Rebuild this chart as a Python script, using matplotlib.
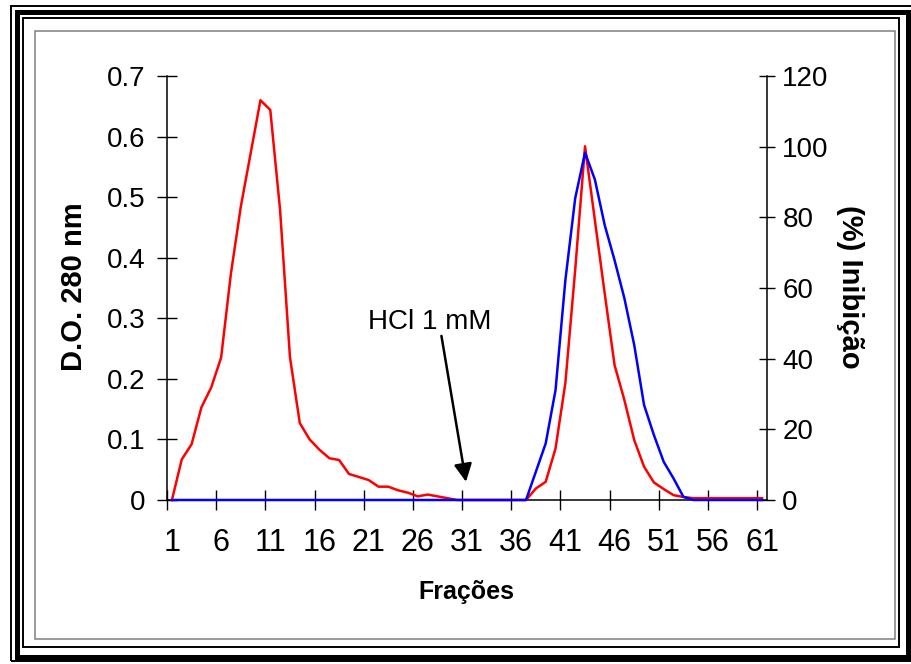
import numpy as np
import matplotlib
matplotlib.use("Agg")
import matplotlib.pyplot as plt
from matplotlib.patches import Rectangle

plt.rcParams["font.family"] = ["Liberation Sans", "DejaVu Sans"]

W, H = 911, 664   # output size, px

# ---- data ----
fractions = np.arange(1, 62)
do280 = [0.000, 0.067, 0.092, 0.153, 0.186, 0.235, 0.374, 0.484, 0.572, 0.660,
         0.644, 0.478, 0.236, 0.127, 0.100, 0.083, 0.069, 0.066, 0.043, 0.038,
         0.033, 0.022, 0.022, 0.016, 0.012, 0.006, 0.009, 0.006, 0.003, 0.000,
         0.000, 0.000, 0.000, 0.000, 0.000, 0.000, 0.000, 0.019, 0.030, 0.085,
         0.193, 0.380, 0.584, 0.462, 0.341, 0.223, 0.165, 0.099, 0.055, 0.029,
         0.018, 0.008, 0.005, 0.003, 0.003, 0.003, 0.003, 0.003, 0.003, 0.003,
         0.003]
inhib = [0.0] * 37 + [8.0, 16.0, 31.1, 62.2, 85.4, 98.3, 90.7, 77.8, 67.9, 57.1,
                      43.9, 26.9, 18.4, 10.8, 6.1, 0.9] + [0.0] * 8

xtick_vals = list(range(1, 62, 5))
left_ticks = [0, 0.1, 0.2, 0.3, 0.4, 0.5, 0.6, 0.7]
left_labels = ["0", "0.1", "0.2", "0.3", "0.4", "0.5", "0.6", "0.7"]
right_ticks = [0, 20, 40, 60, 80, 100, 120]

# annotation (data coords of left axis)
note_text = "HCl 1 mM"
note_pos = (27.24, 0.294)
arrow_from = (28.4, 0.271)
arrow_to = (30.9, 0.030)


def fig_rect(x0, y0, x1, y1, **kw):
    """rectangle given in pixel coords (origin top-left)"""
    return Rectangle((x0 / W, 1 - y1 / H), (x1 - x0) / W, (y1 - y0) / H,
                     transform=fig.transFigure, fill=False, **kw)


fig = plt.figure(figsize=(W / 100, H / 100), dpi=100)
ax = fig.add_axes([167 / W, 1 - 500 / H, 600 / W, 424 / H])
ax2 = ax.twinx()

ax.plot(fractions, do280, color="#ff0000", lw=1.8, clip_on=False, zorder=3)
ax2.plot(fractions, inhib, color="#0000ff", lw=1.8, clip_on=False, zorder=3)

ax.set_xlim(0.5, 61.5)
ax.set_ylim(0, 0.7)
ax2.set_ylim(0, 120)

for a in (ax, ax2):
    a.spines["top"].set_visible(False)
    for s in a.spines.values():
        s.set_linewidth(1.1)
ax.spines["right"].set_visible(False)
ax2.spines["left"].set_visible(False)
ax2.spines["bottom"].set_visible(False)

ax.set_xticks(xtick_vals, [str(v) for v in xtick_vals])
ax.set_xticks(np.arange(0.5, 61, 5), minor=True)
ax.tick_params(axis="x", which="major", length=0, pad=20, labelsize=22)
ax.tick_params(axis="x", which="minor", direction="inout", length=14, width=1)
ax.set_yticks(left_ticks, left_labels)
ax.tick_params(axis="y", direction="inout", length=14, width=1, pad=8.5, labelsize=20)
ax2.set_yticks(right_ticks, [str(v) for v in right_ticks])
ax2.tick_params(axis="y", direction="inout", length=12, width=1, pad=5, labelsize=20)

ax.text(*note_pos, note_text, ha="center", va="center", fontsize=20)
ax.annotate("", xy=arrow_to, xytext=arrow_from,
            arrowprops=dict(arrowstyle="-|>", color="black", lw=1.8,
                            mutation_scale=27, shrinkA=0, shrinkB=0))

fig.text(74 / W, 1 - 287 / H, "D.O. 280 nm", rotation=90, ha="center", va="center",
         fontsize=21, fontweight="bold")
fig.text(850 / W, 1 - 287 / H, "(%) Inibição", rotation=270, ha="center", va="center",
         fontsize=21, fontweight="bold")
fig.text(466 / W, 1 - 592 / H, "Frações", ha="center", va="center",
         fontsize=18, fontweight="bold")

# nested frame around the chart
fig.add_artist(fig_rect(10.5, 5.5, 913, 661, lw=1.4, ec="black"))
fig.add_artist(fig_rect(16.5, 11.5, 908, 657, lw=3.6, ec="black"))
fig.add_artist(fig_rect(23, 18, 899, 647, lw=1.4, ec="black"))
fig.add_artist(fig_rect(35, 31, 894.5, 639, lw=1.1, ec="#808080"))

fig.savefig("out.png", dpi=100)
